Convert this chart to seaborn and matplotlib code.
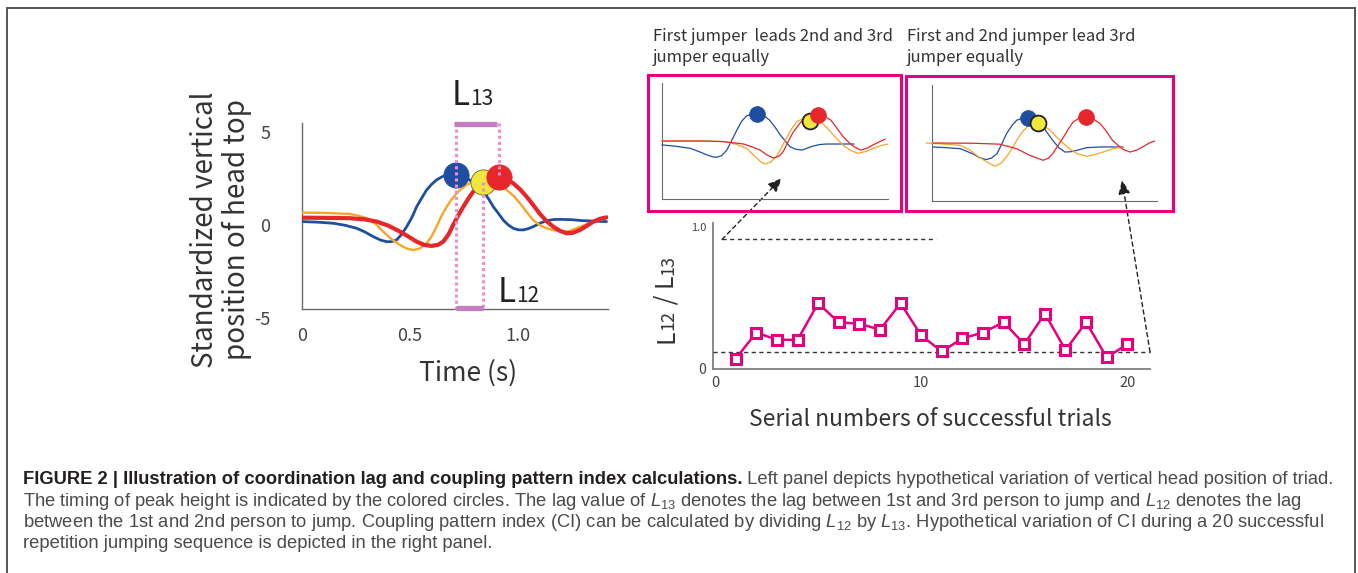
import numpy as np
import pandas as pd
import matplotlib
matplotlib.use("Agg")
import matplotlib.pyplot as plt
import matplotlib.transforms as mtrans
import seaborn as sns
from matplotlib.patches import Rectangle

# ---------------- data ----------------
# left panel: hypothetical head-top trajectories (time s, standardized value)
main_blue_t = [0, 0.07, 0.145, 0.20, 0.253, 0.29, 0.33, 0.365, 0.392, 0.415, 0.438, 0.46, 0.485, 0.51, 0.531,
               0.555, 0.577, 0.60, 0.623, 0.65, 0.68, 0.713, 0.745, 0.775, 0.81, 0.847, 0.866, 0.886, 0.91,
               0.932, 0.955, 0.978, 1.0, 1.025, 1.048, 1.071, 1.10, 1.133, 1.165, 1.194, 1.25, 1.30, 1.36, 1.41]
main_blue_v = [-0.30, -0.33, -0.39, -0.5, -0.66, -0.85, -1.11, -1.3, -1.38, -1.38, -1.29, -1.0, -0.57, -0.05, 0.5,
               0.98, 1.4, 1.7, 1.94, 2.12, 2.22, 2.25, 2.15, 1.95, 1.62, 1.22, 0.88, 0.5, 0.13,
               -0.22, -0.48, -0.66, -0.74, -0.75, -0.68, -0.57, -0.4, -0.25, -0.19, -0.18, -0.2, -0.25, -0.28, -0.30]
main_orange_t = [0, 0.10, 0.222, 0.26, 0.30, 0.34, 0.376, 0.415, 0.454, 0.485, 0.515, 0.545, 0.577, 0.60, 0.623,
                 0.645, 0.67, 0.693, 0.716, 0.74, 0.762, 0.80, 0.832, 0.865, 0.90, 0.948, 0.98, 1.01, 1.04,
                 1.07, 1.10, 1.133, 1.17, 1.21, 1.24, 1.27, 1.31, 1.35, 1.41]
main_orange_v = [0.18, 0.17, 0.11, 0.02, -0.12, -0.42, -0.84, -1.25, -1.56, -1.75, -1.83, -1.75, -1.47, -1.1, -0.57,
                 -0.02, 0.5, 0.9, 1.22, 1.48, 1.67, 1.88, 1.95, 1.88, 1.7, 1.4, 1.08, 0.68, 0.22,
                 -0.22, -0.48, -0.66, -0.78, -0.84, -0.8, -0.66, -0.48, -0.3, -0.12]
main_red_t = [0, 0.10, 0.222, 0.29, 0.346, 0.40, 0.454, 0.495, 0.531, 0.565, 0.60, 0.63, 0.654, 0.678, 0.70,
              0.723, 0.747, 0.77, 0.793, 0.816, 0.839, 0.875, 0.912, 0.945, 0.978, 1.01, 1.04, 1.07, 1.10,
              1.13, 1.163, 1.195, 1.225, 1.255, 1.287, 1.32, 1.35, 1.38, 1.41]
main_red_v = [-0.09, -0.1, -0.12, -0.18, -0.3, -0.52, -0.84, -1.12, -1.38, -1.55, -1.61, -1.55, -1.38, -1.0, -0.48,
              0.02, 0.5, 0.93, 1.31, 1.58, 1.76, 2.0, 2.1, 2.0, 1.76, 1.43, 1.04, 0.6, 0.14,
              -0.25, -0.57, -0.8, -0.93, -0.9, -0.75, -0.52, -0.3, -0.15, -0.07]
# peak times / heights of jumper 1, 2, 3 (circles)
main_peak_t = [0.713, 0.838, 0.912]
main_peak_v = [2.2, 1.83, 2.12]

# right panel: coupling pattern index for 20 successful trials
trials = list(range(1, 21))
ci = [0.07, 0.25, 0.20, 0.20, 0.45, 0.32, 0.31, 0.27, 0.45, 0.23,
      0.12, 0.21, 0.25, 0.32, 0.17, 0.38, 0.13, 0.32, 0.08, 0.17]
ci_upper_ref = 0.888
ci_lower_ref = 0.118

# left inset: first jumper leads 2nd and 3rd equally
li_blue_t = [0, 0.1, 0.206, 0.28, 0.33, 0.37, 0.40, 0.44, 0.476, 0.51, 0.55, 0.585, 0.62, 0.66, 0.70, 0.745,
             0.79, 0.83, 0.87, 0.905, 0.94, 0.98, 1.03, 1.07, 1.11, 1.16, 1.21, 1.30, 1.41]
li_blue_v = [-0.34, -0.45, -0.63, -0.95, -1.2, -1.36, -1.41, -1.25, -0.78, 0.0, 0.95, 1.7, 2.15, 2.35, 2.38, 2.2,
             1.8, 1.2, 0.5, 0.0, -0.49, -0.7, -0.78, -0.6, -0.43, -0.3, -0.26, -0.26, -0.26]
li_orange_t = [0, 0.3, 0.45, 0.55, 0.62, 0.69, 0.73, 0.76, 0.80, 0.84, 0.88, 0.92, 0.955, 0.99, 1.04, 1.09,
               1.135, 1.18, 1.23, 1.28, 1.33, 1.38, 1.44, 1.50, 1.55, 1.61, 1.66]
li_orange_v = [0.0, 0.0, -0.05, -0.3, -0.63, -1.4, -1.85, -1.98, -1.8, -1.35, -0.5, 0.37, 1.1, 1.67, 1.95, 2.0,
               1.85, 1.5, 0.9, 0.23, -0.35, -0.78, -1.06, -0.9, -0.63, -0.4, -0.26]
li_red_t = [0, 0.3, 0.45, 0.6, 0.66, 0.72, 0.77, 0.82, 0.86, 0.89, 0.925, 0.96, 1.01, 1.06, 1.10, 1.14,
            1.19, 1.24, 1.285, 1.33, 1.37, 1.41, 1.46, 1.51, 1.55, 1.60, 1.64]
li_red_v = [0.0, 0.0, -0.05, -0.26, -0.5, -0.78, -1.2, -1.47, -1.3, -0.92, -0.1, 0.69, 1.5, 2.1, 2.3, 2.35,
            2.15, 1.8, 1.1, 0.37, -0.1, -0.49, -0.78, -0.6, -0.34, -0.05, 0.17]
li_peak_t = [0.70, 1.09, 1.145]
li_peak_v = [2.3, 1.72, 2.24]

# right inset: first and second jumper lead 3rd equally
ri_blue_t = [0.01, 0.1, 0.21, 0.30, 0.35, 0.40, 0.44, 0.48, 0.515, 0.55, 0.59, 0.625, 0.67, 0.71, 0.76,
             0.82, 0.855, 0.89, 0.935, 0.98, 1.025, 1.07, 1.14, 1.25, 1.41]
ri_blue_v = [-0.34, -0.4, -0.49, -0.92, -1.25, -1.43, -1.3, -0.92, -0.1, 0.8, 1.5, 1.96, 2.15, 2.2, 1.95,
             1.38, 0.8, 0.23, -0.4, -0.78, -0.75, -0.63, -0.4, -0.34, -0.34]
ri_orange_t = [-0.04, 0.1, 0.21, 0.28, 0.33, 0.40, 0.465, 0.51, 0.55, 0.59, 0.625, 0.66, 0.70, 0.74, 0.78,
               0.825, 0.87, 0.92, 0.97, 1.02, 1.07, 1.14, 1.20, 1.26, 1.33, 1.41]
ri_orange_v = [0.0, -0.1, -0.2, -0.6, -1.06, -1.6, -2.0, -1.75, -1.2, -0.5, 0.23, 0.85, 1.38, 1.65, 1.75,
               1.5, 1.1, 0.5, -0.05, -0.55, -0.92, -1.15, -1.0, -0.78, -0.5, -0.34]
ri_red_t = [0.01, 0.3, 0.5, 0.625, 0.72, 0.82, 0.86, 0.89, 0.93, 0.97, 1.005, 1.04, 1.085, 1.135, 1.19,
            1.24, 1.285, 1.33, 1.37, 1.41, 1.46, 1.51, 1.56, 1.60, 1.64]
ri_red_v = [0.0, -0.02, -0.1, -0.49, -1.06, -1.49, -1.3, -0.92, -0.2, 0.52, 1.2, 1.81, 2.15, 2.25, 2.05,
            1.67, 1.0, 0.23, -0.2, -0.57, -0.78, -0.6, -0.28, 0.0, 0.17]
ri_peak_t = [0.71, 0.78, 1.135]
ri_peak_v = [2.15, 1.72, 2.2]

inset_titles = ["First jumper  leads 2nd and 3rd\njumper equally",
                "First and 2nd jumper lead 3rd\njumper equally"]
caption_bold = "FIGURE 2 | Illustration of coordination lag and coupling pattern index calculations."
caption_lines = [
    " Left panel depicts hypothetical variation of vertical head position of triad.",
    "The timing of peak height is indicated by the colored circles. The lag value of $L_{13}$ denotes the lag "
    "between 1st and 3rd person to jump and $L_{12}$ denotes the lag",
    "between the 1st and 2nd person to jump. Coupling pattern index (CI) can be calculated by dividing "
    "$L_{12}$ by $L_{13}$. Hypothetical variation of CI during a 20 successful",
    "repetition jumping sequence is depicted in the right panel.",
]

# ---------------- style ----------------
sns.set_theme(style="white")
plt.rcParams["font.family"] = ["Noto Sans CJK JP", "DejaVu Sans"]
plt.rcParams["mathtext.fontset"] = "custom"
plt.rcParams["mathtext.rm"] = "Liberation Sans"
plt.rcParams["mathtext.it"] = "Liberation Sans:italic"

C_BLUE, C_ORANGE, C_RED, C_YELLOW = "#1f4ea0", "#f5a62a", "#e6262b", "#f0e63c"
C_PINK = "#e4007f"
C_TXT = "#333333"

W, H = 1358, 573
fig = plt.figure(figsize=(W / 100, H / 100), dpi=100)


def box(l, t, r, b):
    return [l / W, 1 - b / H, (r - l) / W, (b - t) / H]


def series(t, v):
    return pd.DataFrame({"t": t, "v": v})


def style_axes(ax, color="#6a6a6a", lw=1.0):
    sns.despine(ax=ax)
    for s in ("left", "bottom"):
        ax.spines[s].set_color(color)
        ax.spines[s].set_linewidth(lw)
    ax.set_facecolor("none")
    ax.grid(False)


# ---------------- left main panel ----------------
ax1 = fig.add_axes(box(302, 123, 608, 309))
for t, v, c, lw in [(main_blue_t, main_blue_v, C_BLUE, 2.0),
                    (main_orange_t, main_orange_v, C_ORANGE, 1.7),
                    (main_red_t, main_red_v, C_RED, 3.0)]:
    sns.lineplot(data=series(t, v), x="t", y="v", color=c, lw=lw, ax=ax1, zorder=3)
for ln in ax1.lines:
    ln.set_solid_joinstyle("round")
    ln.set_solid_capstyle("round")
peaks = pd.DataFrame({"t": main_peak_t, "v": main_peak_v})
for i, (c, ec) in enumerate([(C_BLUE, C_BLUE), (C_YELLOW, "#6b6a2a"), (C_RED, C_RED)]):
    sns.scatterplot(data=peaks.iloc[[i]], x="t", y="v", s=330, color=c, edgecolor=ec,
                    linewidth=0.6, ax=ax1, zorder=4 + i, legend=False)
ax1.set_xlim(0, 1.417)
ax1.set_ylim(-5, 5)
style_axes(ax1)
ax1.set_xticks([0, 0.5, 1.0], ["0", "0.5", "1.0"])
ax1.set_yticks([-5, 0, 5], ["-5", "0", "5"])
ax1.tick_params(axis="x", direction="in", length=3, color="#6a6a6a", pad=13, labelsize=13, labelcolor="#444")
ax1.tick_params(axis="y", direction="out", length=3, color="#6a6a6a", pad=20, labelsize=13, labelcolor="#444")
for lab in ax1.get_yticklabels():
    lab.set_transform(lab.get_transform() + mtrans.ScaledTranslation(0, -0.09, fig.dpi_scale_trans))
ax1.set_xlabel("Time (s)", fontsize=19, color=C_TXT)
ax1.xaxis.set_label_coords((468 - 302) / 306, -(373 - 309) / 186)
ax1.xaxis.label.set_va("center")
ax1.set_ylabel("Standardized vertical\nposition of head top", fontsize=20, color=C_TXT, linespacing=1.1)
ax1.yaxis.set_label_coords((221 - 302) / 306, (309 - 230) / 186)
ax1.yaxis.label.set_va("center")

# lag markers
dot = dict(color="#f08ccf", lw=2.2, ls=(0, (1, 1)), dash_capstyle="butt", clip_on=False, zorder=8)
ax1.plot([main_peak_t[0]] * 2, [5, -5], **dot)
ax1.plot([main_peak_t[1]] * 2, [main_peak_v[1], -5], **dot)
ax1.plot([main_peak_t[2]] * 2, [5, main_peak_v[2]], **dot)
bar = dict(color="#c47ec2", lw=3.8, solid_capstyle="butt", clip_on=False, zorder=9)
ax1.plot([main_peak_t[0] - 0.01, main_peak_t[2] - 0.01], [4.95, 4.95], **bar)
ax1.plot([main_peak_t[0], main_peak_t[1]], [-4.95, -4.95], **bar)

tL = ax1.text(0.694, 5.97, "L", fontsize=24, color="#222", va="baseline", ha="left", clip_on=False)
ax1.annotate("13", xy=(1, 5.97), xycoords=(tL, ax1.transData), fontsize=15, color="#222",
             va="baseline", ha="left", annotation_clip=False)
tL2 = ax1.text(0.907, -4.62, "L", fontsize=24, color="#222", va="baseline", ha="left", clip_on=False)
ax1.annotate("12", xy=(1, -4.62), xycoords=(tL2, ax1.transData), fontsize=15, color="#222",
             va="baseline", ha="left", annotation_clip=False)

# ---------------- right main panel ----------------
ax2 = fig.add_axes(box(713, 223, 1150, 369))
sns.lineplot(x=trials, y=ci, color=C_PINK, lw=1.8, marker="s", markersize=7.4,
             markerfacecolor="white", markeredgecolor=C_PINK, markeredgewidth=2.2, ax=ax2,
             clip_on=False, zorder=5)
ax2.set_xlim(-0.1, 21.1)
ax2.set_ylim(0, 1.0)
style_axes(ax2, color="#808080", lw=1.3)
ax2.set_xticks([0, 10, 20], ["0", "10", "20"])
ax2.set_yticks([0, 0.97], ["0", "1.0"])
ax2.tick_params(axis="x", length=0, pad=5, labelsize=10.5, labelcolor="#444")
ax2.tick_params(axis="y", length=0, pad=5, labelsize=8, labelcolor="#444")
ax2.get_yticklabels()[0].set_fontsize(10)
ax2.set_xlabel("Serial numbers of successful trials", fontsize=16.5, color=C_TXT)
ax2.xaxis.set_label_coords((930 - 713) / 437, -(420 - 369) / 146)
ax2.xaxis.label.set_va("center")
dash = dict(color="#333", lw=1.0, ls=(0, (3, 2.5)), clip_on=False, zorder=3)
ax2.plot([0.34, 10.7], [ci_upper_ref] * 2, **dash)
ax2.plot([-0.1, 21.1], [ci_lower_ref] * 2, **dash)

# rotated y label "L12 / L13"
pieces = [("L", 18), ("12", 13), (" / L", 18), ("13", 13)]
prev = None
for s, fs in pieces:
    kw = dict(rotation=90, rotation_mode="anchor", ha="left", va="baseline", fontsize=fs, color=C_TXT)
    if prev is None:
        prev = fig.text(673 / W, 1 - 343 / H, s, **kw)
    else:
        prev = ax2.annotate(s, xy=(673, 1), xycoords=("figure pixels", prev), annotation_clip=False, **kw)

# ---------------- insets ----------------
ax_li = fig.add_axes(box(662, 83, 888, 199))
ax_ri = fig.add_axes(box(931.7, 85, 1156.7, 201))
for ax, curves, pt, pv, xmax in [
        (ax_li, [(li_blue_t, li_blue_v, C_BLUE), (li_orange_t, li_orange_v, C_ORANGE), (li_red_t, li_red_v, C_RED)],
         li_peak_t, li_peak_v, 1.66),
        (ax_ri, [(ri_blue_t, ri_blue_v, C_BLUE), (ri_orange_t, ri_orange_v, C_ORANGE), (ri_red_t, ri_red_v, C_RED)],
         ri_peak_t, ri_peak_v, 1.655)]:
    for t, v, c in curves:
        sns.lineplot(data=series(t, v), x="t", y="v", color=c, lw=0.9, ax=ax, zorder=3)
    for ln in ax.lines:
        ln.set_clip_on(False)
        ln.set_solid_joinstyle("round")
    pk = pd.DataFrame({"t": pt, "v": pv})
    for i, (c, ec, lw) in enumerate([(C_BLUE, C_BLUE, 0.5), (C_YELLOW, "#222", 1.3), (C_RED, C_RED, 0.5)]):
        sns.scatterplot(data=pk.iloc[[i]], x="t", y="v", s=130, color=c, edgecolor=ec, linewidth=lw,
                        ax=ax, zorder=4 + i, legend=False)
    ax.set_xlim(0, xmax)
    ax.set_ylim(-5, 5)
    style_axes(ax, color="#6a6a6a", lw=0.8)
    ax.set_xticks([0.5, 1.0], ["", ""])
    ax.set_yticks([5], [""])
    ax.tick_params(axis="x", direction="in", length=2, color="#6a6a6a")
    ax.tick_params(axis="y", direction="out", length=2, color="#6a6a6a")
    ax.set_xlabel("")
    ax.set_ylabel("")

# pink frames
for (l, t, r, b) in [(648, 75, 901, 211), (906, 76, 1173, 211)]:
    fig.add_artist(Rectangle((l / W, 1 - b / H), (r - l) / W, (b - t) / H, transform=fig.transFigure,
                             fill=False, edgecolor=C_PINK, lw=2.2))
fig.text(653 / W, 1 - 28 / H, inset_titles[0], fontsize=12, color=C_TXT, va="top", ha="left", linespacing=1.3)
fig.text(907 / W, 1 - 28 / H, inset_titles[1], fontsize=12, color=C_TXT, va="top", ha="left", linespacing=1.3)

# dashed arrows from CI panel to insets
arrow = dict(arrowstyle="-|>,head_length=0.7,head_width=0.3", color="#222", lw=1.0, ls=(0, (3, 2.5)),
             shrinkA=0, shrinkB=0)
ax2.annotate("", xy=(0.88, -3.2), xycoords=ax_li.transData, xytext=(0.34, ci_upper_ref),
             textcoords=ax2.transData, arrowprops=arrow, annotation_clip=False)
ax2.annotate("", xy=(1.40, -3.2), xycoords=ax_ri.transData, xytext=(21.1, ci_lower_ref),
             textcoords=ax2.transData, arrowprops=arrow, annotation_clip=False)

# ---------------- caption ----------------
cap_kw = dict(family=["Liberation Sans", "DejaVu Sans"], va="baseline", ha="left")
fs = 13.0
tb = fig.text(22.7 / W, 1 - 484 / H, caption_bold, fontsize=fs, weight="bold", color="#231f20", **cap_kw)
tr = ax2.annotate(caption_lines[0], xy=(1, 0), xycoords=tb, fontsize=fs, color="#4a4a4a",
                  family=["Liberation Sans", "DejaVu Sans"], va="bottom", ha="left", annotation_clip=False)
others = []
for k, yb in enumerate([505.5, 527, 548.5]):
    others.append(fig.text(22.7 / W, 1 - yb / H, caption_lines[k + 1], fontsize=fs, color="#4a4a4a", **cap_kw))
renderer = fig.canvas.get_renderer()
w_now = tr.get_window_extent(renderer).x1 - tb.get_window_extent(renderer).x0
scale = (1330 - 22.7) / w_now
for t in [tb, tr] + others:
    t.set_fontsize(fs * scale)

# outer border
fig.add_artist(Rectangle((7 / W, -0.05), (1355 - 7) / W, 1 - 8 / H + 0.05, transform=fig.transFigure,
                         fill=False, edgecolor="#555", lw=1.4))

fig.savefig("out.png", dpi=100, facecolor="white")
